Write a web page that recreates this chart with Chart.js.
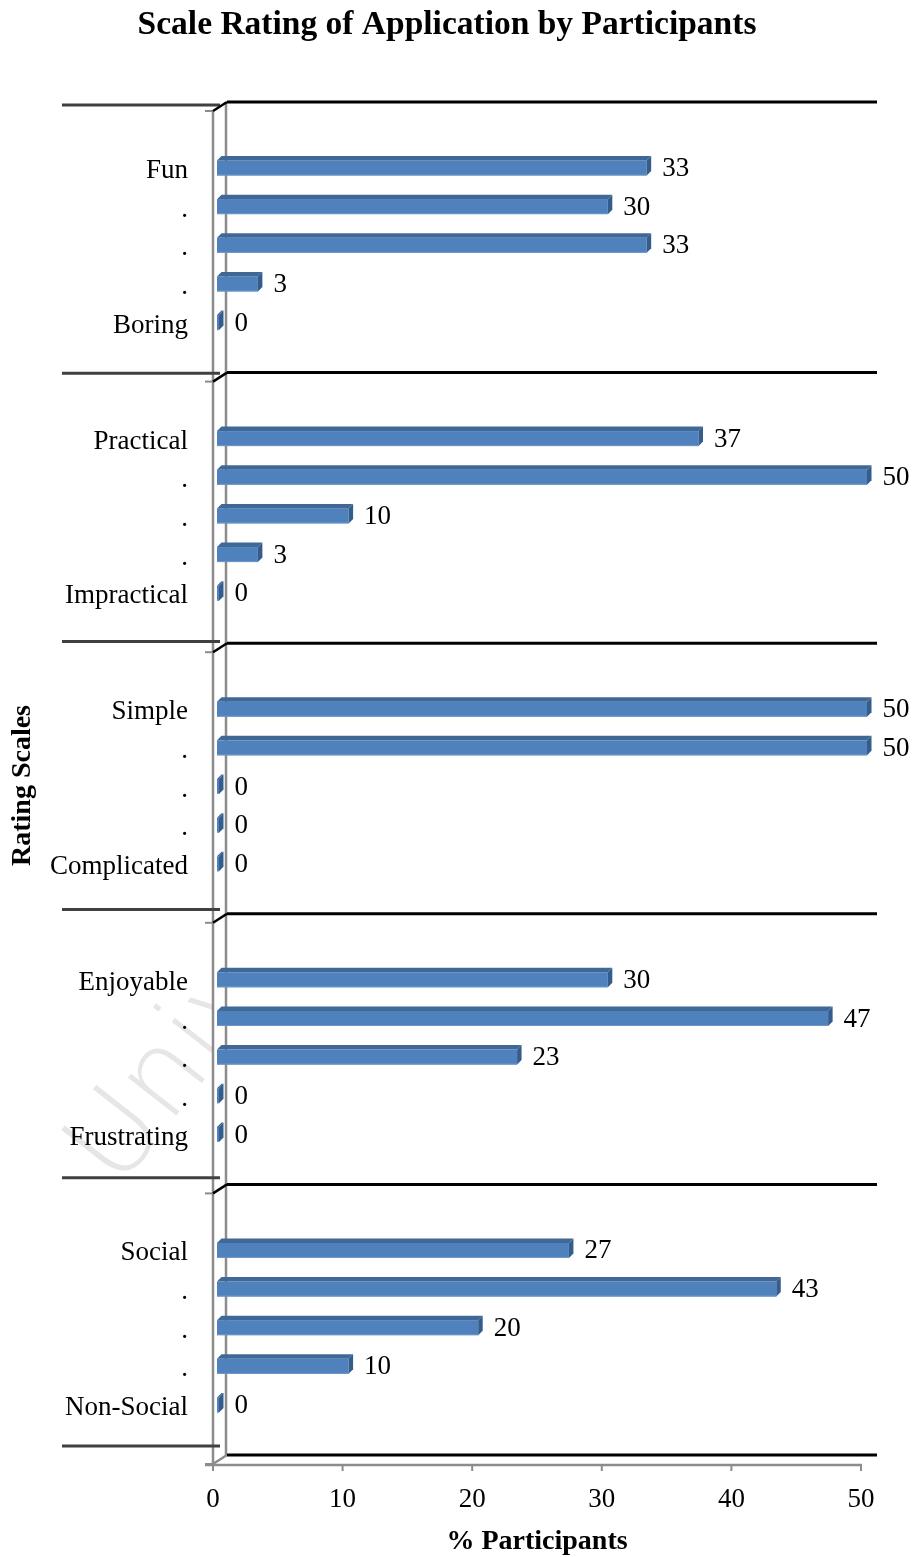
<!DOCTYPE html>
<html>
<head>
<meta charset="utf-8">
<script src="https://cdn.jsdelivr.net/npm/chart.js@4/dist/chart.umd.min.js"></script>
<style>
	body { margin: 0; background: #fff; }
	#wrap { width: 916px; height: 1557px; }
</style>
</head>
<body>
<div id="wrap"><canvas id="ratingChart" width="916" height="1557"></canvas></div>
<script>
// rating scales, positive end on top, negative end at the bottom
const topLabels = ["Fun", "Practical", "Simple", "Enjoyable", "Social"];
const bottomLabels = ["Boring", "Impractical", "Complicated", "Frustrating", "Non-Social"];
// % participants for each of the 5 points, top to bottom
const funBoring = [33, 30, 33, 3, 0];
const practicalImpractical = [37, 50, 10, 3, 0];
const simpleComplicated = [50, 50, 0, 0, 0];
const enjoyableFrustrating = [30, 47, 23, 0, 0];
const socialNonSocial = [27, 43, 20, 10, 0];
const xTicks = [0, 10, 20, 30, 40, 50];

const groups = [funBoring, practicalImpractical, simpleComplicated, enjoyableFrustrating, socialNonSocial];
const SLOTS = 7; // blank row, 5 points, blank row

let labels = [];
let values = [];
groups.forEach((g, i) => {
	labels.push("", topLabels[i], ".", ".", ".", bottomLabels[i], "");
	values.push(null, ...g, null);
});

const SERIF = "'Liberation Serif', 'Times New Roman', serif";
const DEPTH_X = 13; // floor/wall depth
const BAR_DX = 4.5, BAR_DY = 4.5; // bar depth

function poly(ctx, pts, fill) {
	ctx.beginPath();
	ctx.moveTo(pts[0][0], pts[0][1]);
	for (let i = 1; i < pts.length; i++) ctx.lineTo(pts[i][0], pts[i][1]);
	ctx.closePath();
	ctx.fillStyle = fill;
	ctx.fill();
}

// walls, floor, group dividers, bars in 3D and the faint page watermark
const frame = {
	id: "frame",
	beforeDraw(chart) {
		const { ctx, chartArea: { left } } = chart;
		ctx.save();
		// watermark, only visible outside the plot walls
		ctx.beginPath();
		ctx.rect(0, 0, left - 1, chart.height);
		ctx.clip();
		ctx.translate(118, 1190);
		ctx.rotate(-52 * Math.PI / 180);
		ctx.font = "300 112px 'DejaVu Sans', sans-serif";
		ctx.fillStyle = "#e6e6e6";
		ctx.textBaseline = "alphabetic";
		ctx.fillText("Universiti", 0, 0);
		ctx.restore();
	},
	beforeDatasetsDraw(chart) {
		const { ctx, chartArea: { left, right, top, bottom }, scales: { x, y } } = chart;
		const slot = y.getPixelForValue(1) - y.getPixelForValue(0);
		const back = left + DEPTH_X;

		ctx.save();
		ctx.lineCap = "butt";
		// side walls
		ctx.strokeStyle = "#8c8c8c";
		ctx.lineWidth = 2.5;
		ctx.beginPath();
		ctx.moveTo(left, top + 2);
		ctx.lineTo(left, bottom + 3);
		ctx.moveTo(back, top - 7);
		ctx.lineTo(back, bottom - 7);
		ctx.stroke();

		for (let k = 0; k <= groups.length; k++) {
			const yb = y.getPixelForValue(k * SLOTS) - slot / 2;
			const yFront = yb + 2, yBack = yb - 7;
			const last = k == groups.length;
			// category divider on the left
			ctx.strokeStyle = "#404040";
			ctx.lineWidth = 3;
			ctx.beginPath();
			ctx.moveTo(62, yBack + 3 - k * 2.4);
			ctx.lineTo(220, yBack + 3 - k * 2.4);
			ctx.stroke();
			// front tick
			ctx.strokeStyle = "#8c8c8c";
			ctx.lineWidth = 2;
			ctx.beginPath();
			ctx.moveTo(left - 8, yFront);
			ctx.lineTo(left, yFront);
			ctx.stroke();
			// diagonal into the back wall
			ctx.strokeStyle = last ? "#8c8c8c" : "#000";
			ctx.lineWidth = 2.5;
			ctx.beginPath();
			ctx.moveTo(left, yFront);
			ctx.lineTo(back + 1, yBack);
			ctx.stroke();
			// back gridline
			ctx.strokeStyle = "#000";
			ctx.lineWidth = 3;
			ctx.beginPath();
			ctx.moveTo(back + 1, yBack);
			ctx.lineTo(right + 16, yBack);
			ctx.stroke();
		}

		// floor front edge with tick marks
		const yFloor = bottom + 3;
		ctx.strokeStyle = "#8c8c8c";
		ctx.lineWidth = 2.5;
		ctx.beginPath();
		ctx.moveTo(left - 8, yFloor);
		ctx.lineTo(right + 1, yFloor);
		ctx.stroke();
		ctx.lineWidth = 2;
		ctx.beginPath();
		xTicks.forEach((t) => {
			const px = x.getPixelForValue(t);
			ctx.moveTo(px, yFloor);
			ctx.lineTo(px, yFloor + 6);
		});
		ctx.stroke();

		// category labels
		ctx.fillStyle = "#000";
		ctx.font = "27px " + SERIF;
		ctx.textAlign = "right";
		ctx.textBaseline = "middle";
		labels.forEach((lab, i) => {
			if (lab) ctx.fillText(lab, left - 25, y.getPixelForValue(i) + 4);
		});
		ctx.restore();
	},
	afterDatasetsDraw(chart) {
		const { ctx } = chart;
		const meta = chart.getDatasetMeta(0);
		ctx.save();
		meta.data.forEach((el, i) => {
			const v = values[i];
			if (v === null || v === undefined) return;
			const h = el.height;
			const x0 = el.base + 4;
			const x1 = Math.max(el.x + 6, x0 + 1);
			const yT = el.y - h / 2 + 1;
			// front face
			ctx.fillStyle = "#4f81bd";
			ctx.fillRect(x0, yT, x1 - x0, h);
			ctx.fillStyle = "#6f97c8";
			ctx.fillRect(x0, yT + h - 1, x1 - x0, 1);
			// top face
			poly(ctx, [[x0, yT], [x0 + BAR_DX, yT - BAR_DY], [x1 + BAR_DX, yT - BAR_DY], [x1, yT]], "#3f6897");
			// end face
			poly(ctx, [[x1, yT], [x1 + BAR_DX, yT - BAR_DY], [x1 + BAR_DX, yT - BAR_DY + h], [x1, yT + h]], "#355d8c");
			// value label
			ctx.fillStyle = "#000";
			ctx.font = "27px " + SERIF;
			ctx.textAlign = "left";
			ctx.textBaseline = "middle";
			ctx.fillText(String(v), x1 + BAR_DX + 11, el.y + 2);
		});
		ctx.restore();
	},
	afterDraw(chart) {
		const { ctx } = chart;
		ctx.save();
		ctx.fillStyle = "#000";
		ctx.font = "bold 33.5px " + SERIF;
		ctx.textAlign = "center";
		ctx.textBaseline = "middle";
		ctx.fillText("Scale Rating of Application by Participants", 447, 25);
		ctx.restore();
	},
};

new Chart(document.getElementById("ratingChart"), {
	type: "bar",
	data: {
		labels: labels,
		datasets: [
			{
				data: values,
				backgroundColor: "rgba(0,0,0,0)",
				borderWidth: 0,
				barThickness: 15,
			},
		],
	},
	plugins: [frame],
	options: {
		indexAxis: "y",
		responsive: false,
		devicePixelRatio: 1,
		animation: false,
		events: [],
		layout: {
			padding: { top: 109, right: 55, bottom: 0, left: 0 },
		},
		plugins: {
			legend: { display: false },
			tooltip: { enabled: false },
		},
		scales: {
			x: {
				type: "linear",
				min: 0,
				max: 50,
				afterBuildTicks: (scale) => {
					scale.ticks = xTicks.map((v) => ({ value: v }));
				},
				afterFit: (scale) => {
					scale.height = 95;
				},
				grid: { display: false, drawTicks: false },
				border: { display: false },
				ticks: {
					color: "#000",
					padding: 22,
					font: { family: SERIF, size: 27 },
				},
				title: {
					display: true,
					text: "% Participants",
					color: "#000",
					font: { family: SERIF, size: 28, weight: "bold" },
					padding: { top: 0, bottom: -2 },
				},
			},
			y: {
				type: "category",
				afterFit: (scale) => {
					scale.width = 213;
				},
				grid: { display: false, drawTicks: false },
				border: { display: false },
				ticks: { display: false, autoSkip: false },
				title: {
					display: true,
					text: "Rating Scales",
					color: "#000",
					font: { family: SERIF, size: 28, weight: "bold" },
					padding: { top: 6, bottom: 0 },
				},
			},
		},
	},
});
</script>
</body>
</html>
